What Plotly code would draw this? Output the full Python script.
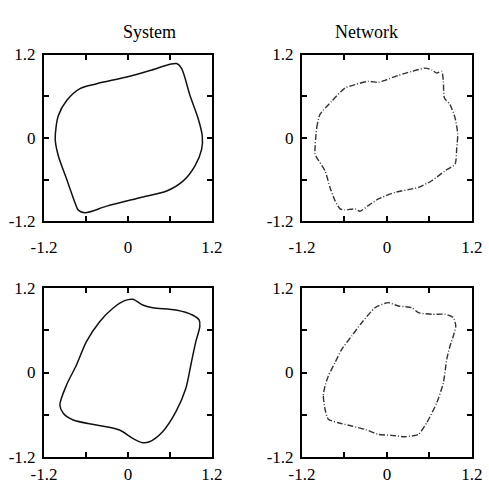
import plotly.graph_objects as go

# ---- data ----
sys1_x = [-1.04, -0.996, -0.876, -0.686, -0.447, -0.019, 0.314, 0.60, 0.696, 0.767, 0.886, 1.004, 1.061, 1.053, 0.957, 0.79, 0.553, 0.171, -0.304, -0.614, -0.71, -0.757, -0.876, -0.996, -1.04]
sys1_y = [-0.015, 0.32, 0.54, 0.71, 0.78, 0.877, 0.97, 1.06, 1.07, 0.997, 0.61, 0.274, 0.033, -0.16, -0.40, -0.617, -0.762, -0.858, -0.979, -1.074, -1.037, -0.93, -0.593, -0.256, -0.015]

net1_x = [-1.016, -0.992, -0.946, -0.78, -0.593, -0.451, -0.264, -0.122, -0.028, 0.16, 0.349, 0.537, 0.632, 0.703, 0.773, 0.796, 0.81, 0.89, 0.961, 0.999, 0.985, 0.961, 0.82, 0.632, 0.443, 0.114, -0.122, -0.264, -0.381, -0.451, -0.593, -0.663, -0.734, -0.805, -0.875, -0.992, -1.016]
net1_y = [-0.233, 0.147, 0.339, 0.529, 0.719, 0.767, 0.814, 0.80, 0.829, 0.90, 0.957, 1.004, 0.98, 0.933, 0.957, 0.814, 0.576, 0.481, 0.29, 0.053, -0.139, -0.376, -0.471, -0.614, -0.71, -0.781, -0.876, -0.971, -1.053, -1.019, -1.033, -1.019, -0.90, -0.71, -0.471, -0.281, -0.233]

sys2_x = [-0.973, -0.878, -0.736, -0.594, -0.405, -0.216, -0.049, 0.068, 0.21, 0.353, 0.685, 0.921, 1.016, 1.026, 0.969, 0.898, 0.827, 0.685, 0.495, 0.306, 0.21, 0.068, -0.121, -0.452, -0.783, -0.925, -0.973]
sys2_y = [-0.461, -0.177, 0.107, 0.438, 0.722, 0.912, 1.02, 1.04, 0.959, 0.921, 0.888, 0.817, 0.746, 0.651, 0.438, 0.107, -0.224, -0.556, -0.84, -0.983, -0.997, -0.935, -0.816, -0.745, -0.674, -0.579, -0.461]

net2_x = [-0.875, -0.899, -0.875, -0.828, -0.687, -0.498, -0.31, -0.122, 0.067, 0.255, 0.443, 0.561, 0.703, 0.796, 0.844, 0.89, 0.937, 0.971, 0.937, 0.82, 0.632, 0.443, 0.349, 0.16, 0.019, -0.028, -0.169, -0.357, -0.498, -0.639, -0.734, -0.828, -0.875]
net2_y = [-0.191, -0.334, -0.522, -0.664, -0.713, -0.76, -0.807, -0.878, -0.892, -0.912, -0.878, -0.713, -0.429, -0.145, 0.188, 0.377, 0.519, 0.661, 0.779, 0.827, 0.827, 0.85, 0.92, 0.945, 0.992, 0.983, 0.92, 0.707, 0.519, 0.33, 0.14, -0.049, -0.191]

tick_vals = [-1.2, -0.6, 0, 0.6, 1.2]
tick_text = ["-1.2", "", "0", "", "1.2"]
titles = ["System", "Network"]

FONT = "Liberation Serif"

fig = go.Figure()

panels = [
    (sys1_x, sys1_y, "x", "y", "solid"),
    (net1_x, net1_y, "x2", "y2", "net"),
    (sys2_x, sys2_y, "x3", "y3", "solid"),
    (net2_x, net2_y, "x4", "y4", "net"),
]
for xs, ys, xa, ya, style in panels:
    if style == "solid":
        line = dict(color="#111111", width=1.5, shape="spline", smoothing=0.8)
    else:
        line = dict(color="#333333", width=1.4, shape="spline", smoothing=0.6, dash="6px,2px,1px,2px")
    fig.add_trace(go.Scatter(x=xs, y=ys, mode="lines", line=line, xaxis=xa, yaxis=ya,
                             showlegend=False, hoverinfo="skip"))

xdoms = [[0.090, 0.4335], [0.6176, 0.9652]]
ydoms = [[0.5433, 0.8876], [0.0577, 0.4062]]
x_standoff = [9, 1]

axis_common = dict(range=[-1.2, 1.2], tickvals=tick_vals, ticktext=tick_text,
                   ticks="inside", ticklen=5, tickwidth=1.5, tickcolor="black",
                   showline=True, linewidth=2, linecolor="black", mirror="ticks",
                   showgrid=False, zeroline=False, fixedrange=True, automargin=False,
                   tickfont=dict(family=FONT, size=17, color="black"))

layout = dict(width=489, height=485, margin=dict(l=0, r=0, t=0, b=0),
              paper_bgcolor="white", plot_bgcolor="white", showlegend=False)
names = ["", "2", "3", "4"]
for i, n in enumerate(names):
    r, c = divmod(i, 2)
    layout["xaxis" + n] = dict(axis_common, domain=xdoms[c], anchor="y" + n, ticklabelstandoff=x_standoff[r])
    layout["yaxis" + n] = dict(axis_common, domain=ydoms[r], anchor="x" + n, ticklabelstandoff=3)
fig.update_layout(**layout)

fig.add_annotation(x=121 / 489, y=1 - 20 / 485, xref="paper", yref="paper", text=titles[0],
                   showarrow=False, font=dict(family=FONT, size=18, color="black"))
fig.add_annotation(x=400 / 489, y=1 - 20 / 485, xref="paper", yref="paper", text=titles[1],
                   showarrow=False, font=dict(family=FONT, size=18, color="black"))

fig.write_html("out.html", config={"displayModeBar": False},
               post_script="document.body.style.margin='0';document.body.style.overflow='hidden';")
